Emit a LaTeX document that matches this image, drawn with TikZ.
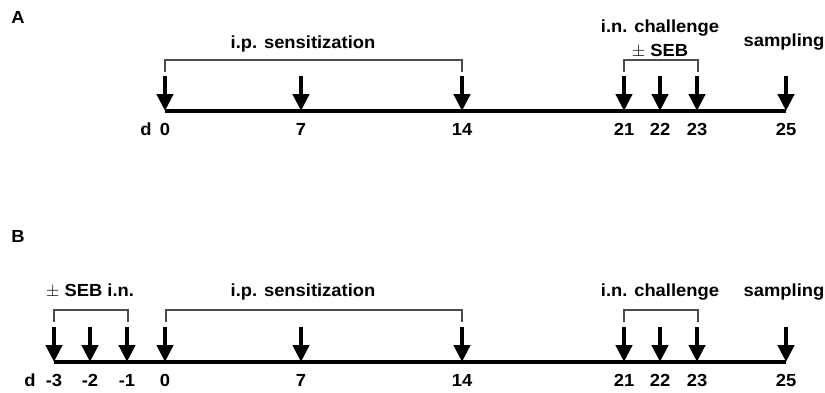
\documentclass[tikz,border=0pt]{standalone}
\usepackage{fontspec}
\setmainfont{Liberation Sans}[FakeStretch=1.05]
\usetikzlibrary{arrows.meta}
\tikzset{
  txt/.style={font=\fontsize{17.5}{21}\selectfont\bfseries, inner sep=0pt, anchor=base},
  timeline/.style={line width=3.5pt, line cap=butt},
  dayarrow/.style={line width=4.5pt, -{Triangle[width=16pt,length=17pt]}},
  bracket/.style={line width=1.2pt, draw=black!70, line cap=butt, line join=miter},
}
\begin{document}
\begin{tikzpicture}[x=1pt,y=-1pt]
\useasboundingbox (0,0) rectangle (825,392);
% ---------------- Panel A ----------------
\node[txt] (pA) at (18,23) {A};
\foreach \n/\x in {0/165,7/301,14/462,21/624,22/660,23/697,25/786}{
  \coordinate (a\n) at (\x,111);
  \coordinate (a\n t) at (\x,76);
  \draw[dayarrow] (a\n t) -- (a\n);
  \node[txt] (la\n) at (\x,135) {\n};
}
\draw[timeline] (a0) -- (a25);
\node[txt] (ldA) at (146,135) {d};
% brackets A
\coordinate (bAs1) at (165,72); \coordinate (bAs2) at (462,72);
\draw[bracket] (bAs1) -- ++(0,-12) -| (bAs2);
\coordinate (bAc1) at (624,72); \coordinate (bAc2) at (698,72);
\draw[bracket] (bAc1) -- ++(0,-12) -| (bAc2);
\node[txt] (hAs) at (303,48) {i.p. sensitization};
\node[txt] (hAc) at (660,32.5) {i.n. challenge};
\node[txt] (hAseb) at (660,56) {$\pm$ SEB};
\node[txt] (hAsa) at (784,46.5) {sampling};
% ---------------- Panel B ----------------
\node[txt] (pB) at (18,242) {B};
\foreach \n/\x in {-3/54,-2/90,-1/127,0/165,7/301,14/462,21/624,22/660,23/697,25/786}{
  \coordinate (b\n) at (\x,362);
  \coordinate (b\n t) at (\x,327);
  \draw[dayarrow] (b\n t) -- (b\n);
  \node[txt] (lb\n) at (\x,386) {\n};
}
\draw[timeline] (b-3) -- (b25);
\node[txt] (ldB) at (30,386) {d};
% brackets B
\coordinate (bBe1) at (54,322); \coordinate (bBe2) at (128,322);
\draw[bracket] (bBe1) -- ++(0,-12) -| (bBe2);
\coordinate (bBs1) at (166,322); \coordinate (bBs2) at (462,322);
\draw[bracket] (bBs1) -- ++(0,-12) -| (bBs2);
\coordinate (bBc1) at (624,322); \coordinate (bBc2) at (698,322);
\draw[bracket] (bBc1) -- ++(0,-12) -| (bBc2);
\node[txt] (hBe) at (90,296) {$\pm$ SEB i.n.};
\node[txt] (hBs) at (303,296) {i.p. sensitization};
\node[txt] (hBc) at (660,296) {i.n. challenge};
\node[txt] (hBsa) at (784,296) {sampling};
\end{tikzpicture}
\end{document}
